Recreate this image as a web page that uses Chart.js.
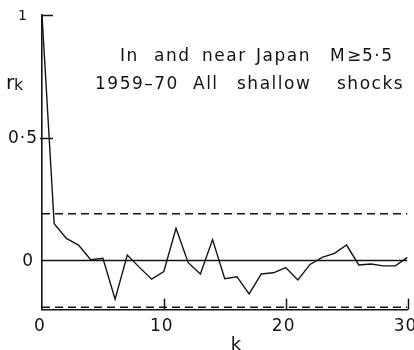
<!DOCTYPE html>
<html>
<head>
<meta charset="utf-8">
<script src="https://cdn.jsdelivr.net/npm/chart.js@4.4.1/dist/chart.umd.min.js"></script>
<style>
  html, body { margin: 0; padding: 0; background: #fff; }
  #wrap { width: 414px; height: 350px; position: relative; }
</style>
</head>
<body>
<div id="wrap"><canvas id="c" width="414" height="350"></canvas></div>
<script>
// Serial autocorrelation r_k of shallow shocks, lags k = 0..30
const lags = [0,1,2,3,4,5,6,7,8,9,10,11,12,13,14,15,16,17,18,19,20,21,22,23,24,25,26,27,28,29,30];
const rk = [1.0, 0.150, 0.090, 0.063, 0.003, 0.009, -0.158, 0.022, -0.028, -0.076, -0.045,
            0.131, -0.009, -0.055, 0.085, -0.074, -0.066, -0.136, -0.055, -0.050, -0.029,
            -0.079, -0.016, 0.013, 0.029, 0.063, -0.018, -0.014, -0.022, -0.022, 0.013];

// Significance band (dashed) and zero reference
const bandUpper = 0.19;
const bandLower = -0.19;
const kRange = [0, 30];

// Axis ticks and labels
const xTicks = [0, 10, 20, 30];
const xTickLabels = ['0', '10', '20', '30'];
const yTicks = [1, 0.5, 0];
const yTickLabels = ['1', '0·5', '0'];

const titleLine1 = ['In', 'and', 'near', 'Japan', 'M', '≥', '5·5'];
const titleLine2 = ['1959–70', 'All', 'shallow', 'shocks'];

const INK = '#141414';
const FONT = '"DejaVu Sans", sans-serif';

const flat = (v) => kRange.map(k => ({ x: k, y: v }));

const decor = {
  id: 'decor',
  afterDraw(chart) {
    const ctx = chart.ctx;
    const xs = chart.scales.x, ys = chart.scales.y;
    const area = chart.chartArea;
    ctx.save();
    ctx.strokeStyle = INK;
    ctx.fillStyle = INK;
    ctx.lineWidth = 1.5;

    // inward ticks on the k axis
    xTicks.forEach(v => {
      if (v === 0) return;
      const px = Math.round(xs.getPixelForValue(v)) + 0.5;
      ctx.beginPath();
      ctx.moveTo(px, area.bottom);
      ctx.lineTo(px, area.bottom - 11);
      ctx.stroke();
    });
    // inward ticks on the r axis
    yTicks.forEach(v => {
      if (v === 0) return;
      const py = Math.round(ys.getPixelForValue(v)) + 0.5;
      ctx.beginPath();
      ctx.moveTo(area.left - (v === 1 ? 0 : 2), py);
      ctx.lineTo(area.left + 11, py);
      ctx.stroke();
    });

    // tick labels
    ctx.font = '17px ' + FONT;
    ctx.letterSpacing = '1px';
    ctx.textAlign = 'center';
    ctx.textBaseline = 'middle';
    xTicks.forEach((v, i) => {
      ctx.fillText(xTickLabels[i], xs.getPixelForValue(v) - 2, 327);
    });
    ctx.textAlign = 'right';
    yTicks.forEach((v, i) => {
      const off = v === 0.5 ? 4 : (v === 1 ? -6 : 0);
      const size = v === 1 ? 14 : 17;
      ctx.font = size + 'px ' + FONT;
      ctx.fillText(yTickLabels[i], 34 + off, ys.getPixelForValue(v) + 1);
    });

    // axis titles
    ctx.textAlign = 'left';
    ctx.textBaseline = 'alphabetic';
    ctx.letterSpacing = '0px';
    ctx.font = '20px ' + FONT;
    ctx.fillText('r', 6, 89);
    ctx.font = '16px ' + FONT;
    ctx.fillText('k', 14, 90);
    ctx.font = '18px ' + FONT;
    ctx.textAlign = 'center';
    ctx.fillText('k', 236, 350);

    // caption
    ctx.font = '17px ' + FONT;
    ctx.letterSpacing = '1.5px';
    ctx.textAlign = 'left';
    const x1 = [120, 154, 202, 256, 330, 347, 362];
    titleLine1.forEach((w, i) => ctx.fillText(w, x1[i], 61));
    const x2 = [95, 193, 237, 337];
    titleLine2.forEach((w, i) => ctx.fillText(w, x2[i], 89));
    ctx.restore();
  }
};

new Chart(document.getElementById('c'), {
  type: 'line',
  data: {
    datasets: [
      { data: lags.map((k, i) => ({ x: k, y: rk[i] })), borderColor: INK, borderWidth: 1.4, pointRadius: 0, tension: 0 },
      { data: flat(0), borderColor: INK, borderWidth: 1.3, pointRadius: 0 },
      { data: flat(bandUpper), borderColor: INK, borderWidth: 1.5, borderDash: [8, 5], pointRadius: 0 },
      { data: flat(bandLower), borderColor: INK, borderWidth: 1.5, borderDash: [8, 5], pointRadius: 0 }
    ]
  },
  options: {
    responsive: false,
    animation: false,
    events: [],
    layout: { padding: { left: 42, right: 6.5, top: 15, bottom: 40.4 } },
    plugins: { legend: { display: false }, tooltip: { enabled: false } },
    scales: {
      x: {
        type: 'linear', min: 0, max: 30,
        grid: { display: false, drawTicks: false },
        border: { display: true, color: INK, width: 1.6 },
        ticks: { display: false }
      },
      y: {
        type: 'linear', min: -0.2, max: 1,
        grid: { display: false, drawTicks: false },
        border: { display: true, color: INK, width: 1.6 },
        ticks: { display: false }
      }
    }
  },
  plugins: [decor]
});
</script>
</body>
</html>
